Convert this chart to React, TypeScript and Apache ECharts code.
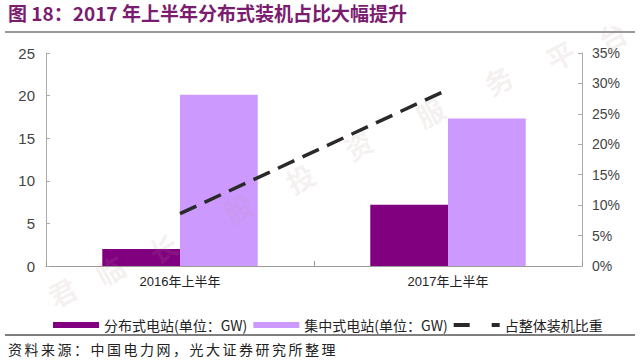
import React, { useEffect, useRef } from "react";
import * as echarts from "echarts";

const categories = ["2016年上半年", "2017年上半年"];
const distributed = [2.0, 7.2];
const centralized = [20.1, 17.3];
const sharePct = [8.6, 29.0];
const seriesNames = ["分布式电站(单位：GW)", "集中式电站(单位：GW)", "占整体装机比重"];
const titleText = "图 18：2017 年上半年分布式装机占比大幅提升";
const sourceText = "资料来源：中国电力网，光大证券研究所整理";
const watermark = ["君", "临", "长", "股", "投", "资", "服", "务", "平", "台"];

const CJK = '"Noto Sans CJK SC", "Liberation Sans", Arial, sans-serif';
const LAT = '"Liberation Sans", Arial, "Noto Sans CJK SC", sans-serif';

export default function App() {
  const ref = useRef<HTMLDivElement>(null);
  useEffect(() => {
    if (!ref.current) return;
    const chart = echarts.init(ref.current, undefined, { renderer: "svg" });
    const wmPos = [
      [62, 292], [110, 270], [163, 248], [238, 208], [300, 178], [358, 145], [430, 112], [498, 80], [560, 55], [612, 36],
    ];
    const sourceChars = sourceText.split("");
    chart.setOption({
      animation: false,
      backgroundColor: "#fff",
      textStyle: { fontFamily: CJK },
      grid: { left: 46, right: 58, top: 53, bottom: 96 },
      legend: {
        left: 48,
        top: 313,
        itemWidth: 46,
        itemHeight: 6,
        itemGap: 6,
        textStyle: { fontSize: 14, color: "#222", fontFamily: CJK },
        data: [
          { name: seriesNames[0], icon: "rect" },
          { name: seriesNames[1], icon: "rect" },
          { name: seriesNames[2], icon: "path://M0,0h16v4h-16z M38,0h8v4h-8z" },
        ],
      },
      xAxis: {
        type: "category",
        data: categories,
        axisLine: { lineStyle: { color: "#999", width: 1 } },
        axisTick: { show: true, inside: true, length: 5, lineStyle: { color: "#999" } },
        axisLabel: { fontSize: 13, color: "#222", margin: 9, fontFamily: LAT },
      },
      yAxis: [
        {
          type: "value",
          min: 0,
          max: 25,
          interval: 5,
          splitLine: { show: false },
          axisLine: { show: true, lineStyle: { color: "#aaa" } },
          axisTick: { show: true, inside: true, length: 4, lineStyle: { color: "#aaa" } },
          axisLabel: { fontSize: 15, color: "#444", margin: 11, fontFamily: LAT },
        },
        {
          type: "value",
          min: 0,
          max: 35,
          interval: 5,
          splitLine: { show: false },
          axisLine: { show: true, lineStyle: { color: "#aaa" } },
          axisTick: { show: true, inside: true, length: 4, lineStyle: { color: "#aaa" } },
          axisLabel: { fontSize: 14, color: "#444", margin: 10, formatter: "{value}%", fontFamily: LAT },
        },
      ],
      series: [
        {
          name: seriesNames[0],
          type: "bar",
          data: distributed,
          barGap: "0%",
          barCategoryGap: "42%",
          itemStyle: { color: "#800080" },
        },
        {
          name: seriesNames[1],
          type: "bar",
          data: centralized,
          itemStyle: { color: "#CC99FF" },
        },
        {
          name: seriesNames[2],
          type: "line",
          yAxisIndex: 1,
          data: sharePct,
          symbol: "none",
          lineStyle: { color: "#2a2a2a", width: 3.5, type: [18, 9] },
          itemStyle: { color: "#2a2a2a" },
        },
      ],
      graphic: [
        {
          type: "text",
          left: 8,
          top: 3,
          style: { text: titleText, fill: "#7B1C6F", font: `bold 19px ${CJK}` },
        },
        {
          type: "line",
          shape: { x1: 5, y1: 32, x2: 635, y2: 32 },
          style: { stroke: "#777", lineWidth: 1.5 },
        },
        {
          type: "line",
          shape: { x1: 5, y1: 335, x2: 635, y2: 335 },
          style: { stroke: "#555", lineWidth: 1.5 },
        },
        ...sourceChars.map((ch, i) => ({
          type: "text",
          x: 8 + i * 16.5,
          y: 349,
          style: { text: ch, fill: "#222", font: `14px ${CJK}`, verticalAlign: "middle" },
        })),
        ...watermark.map((ch, i) => ({
          type: "text",
          x: wmPos[i][0],
          y: wmPos[i][1],
          rotation: 0.5,
          silent: true,
          z: 100,
          style: { text: ch, fill: "rgba(190,150,150,0.15)", font: `bold 28px ${CJK}`, align: "center", verticalAlign: "middle" },
        })),
      ],
    });
    return () => chart.dispose();
  }, []);
  return <div ref={ref} style={{ width: 640, height: 362, position: "absolute", left: 0, top: 0 }} />;
}
